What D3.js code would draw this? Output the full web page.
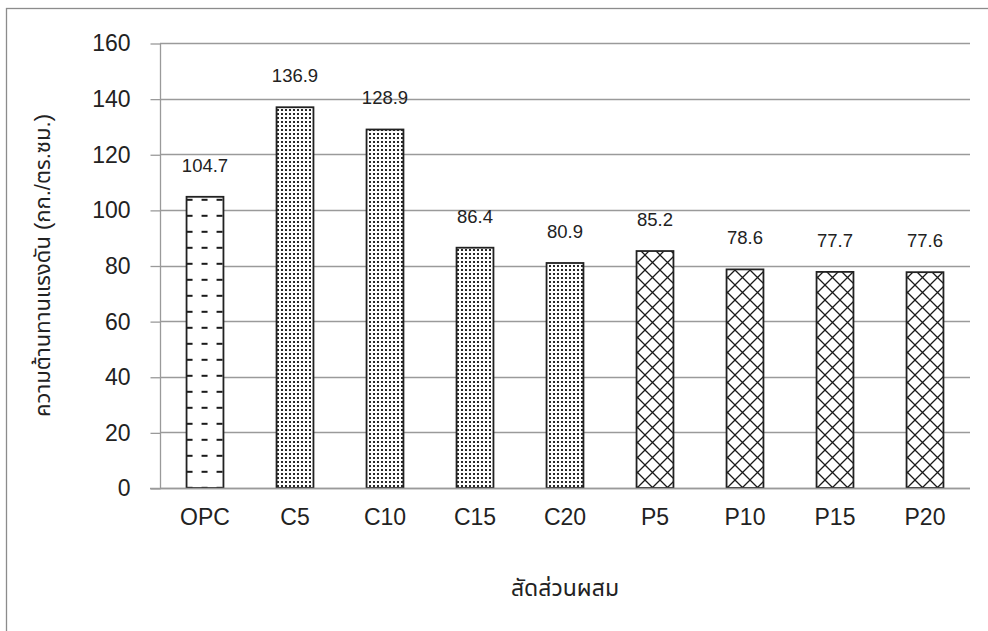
<!DOCTYPE html>
<html>
<head>
<meta charset="utf-8">
<script src="https://cdn.jsdelivr.net/npm/d3@7"></script>
<style>
  html, body { margin: 0; padding: 0; background: #fff; }
  svg { display: block; }
  text { font-family: "Liberation Sans", Arial, "Noto Sans Thai", "Noto Sans", sans-serif; fill: #222; }
</style>
</head>
<body>
<svg id="chart" width="988" height="631"></svg>
<script>
// Compressive strength per mix
const categories = ["OPC", "C5", "C10", "C15", "C20", "P5", "P10", "P15", "P20"];
const strength = [104.7, 136.9, 128.9, 86.4, 80.9, 85.2, 78.6, 77.7, 77.6];
const fills = ["dash", "dots", "dots", "dots", "dots", "diamond", "diamond", "diamond", "diamond"];
const yTicks = [0, 20, 40, 60, 80, 100, 120, 140, 160];
const yTitle = "ความต้านทานแรงดัน (กก./ตร.ซม.)";
const xTitle = "สัดส่วนผสม";

const W = 988, H = 631;
const plot = { left: 160, right: 970, top: 43, bottom: 488 };

const svg = d3.select("#chart");

// outer frame
svg.append("rect")
  .attr("x", 6.5).attr("y", 8.5)
  .attr("width", W + 10).attr("height", H + 10)
  .attr("fill", "none").attr("stroke", "#8c8c8c").attr("stroke-width", 1.3);

const x = d3.scaleBand().domain(categories)
  .range([plot.left, plot.right]).paddingInner(0.59).paddingOuter(0.295);
const y = d3.scaleLinear().domain([0, 160]).range([plot.bottom, plot.top]);

// fill patterns
const defs = svg.append("defs");

const dotP = defs.append("pattern").attr("id", "p-dots")
  .attr("patternUnits", "userSpaceOnUse").attr("width", 4).attr("height", 4);
dotP.append("rect").attr("width", 4).attr("height", 4).attr("fill", "#fff");
dotP.append("rect").attr("x", 1).attr("y", 1).attr("width", 2).attr("height", 2)
  .attr("fill", "#2a2a2a").attr("shape-rendering", "crispEdges");

const diaP = defs.append("pattern").attr("id", "p-diamond")
  .attr("patternUnits", "userSpaceOnUse").attr("width", 15).attr("height", 15);
diaP.append("rect").attr("width", 15).attr("height", 15).attr("fill", "#fff");
diaP.append("path").attr("d", "M-2,-2L17,17M17,-2L-2,17")
  .attr("stroke", "#1a1a1a").attr("stroke-width", 1.3).attr("fill", "none");

// dashed fill anchored to each dashed bar
categories.forEach((c, i) => {
  if (fills[i] !== "dash") return;
  const p = defs.append("pattern").attr("id", "p-dash-" + i)
    .attr("patternUnits", "userSpaceOnUse")
    .attr("x", x(c)).attr("y", y(strength[i]) + 2)
    .attr("width", 15).attr("height", 16);
  p.append("rect").attr("width", 15).attr("height", 16).attr("fill", "#fff");
  p.append("rect").attr("x", 0).attr("y", 0).attr("width", 6).attr("height", 2)
    .attr("fill", "#1a1a1a");
});

// gridlines
svg.append("g").selectAll("line").data(yTicks).join("line")
  .attr("x1", plot.left).attr("x2", plot.right)
  .attr("y1", d => Math.round(y(d)) + 0.5).attr("y2", d => Math.round(y(d)) + 0.5)
  .attr("stroke", "#9a9a9a").attr("stroke-width", 1.3);

// y axis
const yAxis = svg.append("g").attr("transform", `translate(${plot.left + 0.5},0.5)`)
  .call(d3.axisLeft(y).tickValues(yTicks).tickSize(10).tickPadding(20));
yAxis.select(".domain").attr("stroke", "#9a9a9a").attr("stroke-width", 1.3)
  .attr("d", `M0,${plot.top}V${plot.bottom}`);
yAxis.selectAll(".tick line").attr("stroke", "#9a9a9a").attr("stroke-width", 1.3);
yAxis.selectAll(".tick text").attr("font-size", 23).attr("fill", "#222")
  .attr("font-family", "Liberation Sans, Arial, sans-serif");

// bars
svg.append("g").selectAll("rect").data(categories).join("rect")
  .attr("x", d => x(d))
  .attr("y", (d, i) => y(strength[i]))
  .attr("width", x.bandwidth())
  .attr("height", (d, i) => y(0) - y(strength[i]))
  .attr("fill", (d, i) => fills[i] === "dash" ? `url(#p-dash-${i})` : `url(#p-${fills[i]})`)
  .attr("stroke", "#222").attr("stroke-width", 1.8);

// baseline
svg.append("line")
  .attr("x1", plot.left - 10).attr("x2", plot.right)
  .attr("y1", Math.round(y(0)) + 0.5).attr("y2", Math.round(y(0)) + 0.5)
  .attr("stroke", "#9a9a9a").attr("stroke-width", 1.3);

// x axis labels
const xAxis = svg.append("g").attr("transform", `translate(0,${plot.bottom})`)
  .call(d3.axisBottom(x).tickSize(0).tickPadding(21));
xAxis.select(".domain").remove();
xAxis.selectAll(".tick text").attr("font-size", 23).attr("fill", "#222")
  .attr("font-family", "Liberation Sans, Arial, sans-serif");

// value labels
svg.append("g").selectAll("text").data(categories).join("text")
  .attr("x", d => x(d) + x.bandwidth() / 2)
  .attr("y", (d, i) => y(strength[i]) - 25)
  .attr("text-anchor", "middle").attr("font-size", 18.5)
  .text((d, i) => strength[i].toFixed(1));

// axis titles
svg.append("text")
  .attr("transform", `translate(50,${(plot.top + plot.bottom) / 2}) rotate(-90)`)
  .attr("text-anchor", "middle").attr("font-size", 22)
  .text(yTitle);
svg.append("text")
  .attr("x", (plot.left + plot.right) / 2).attr("y", 596)
  .attr("text-anchor", "middle").attr("font-size", 23)
  .text(xTitle);
</script>
</body>
</html>
